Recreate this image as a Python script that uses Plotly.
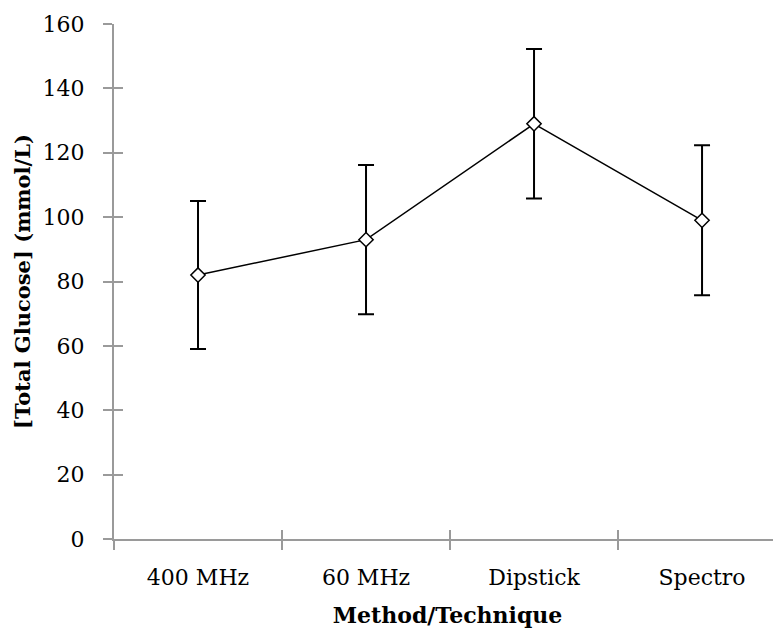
import plotly.graph_objects as go

categories = ["400 MHz", "60 MHz", "Dipstick", "Spectro"]
glucose = [82, 93, 129, 99]
error = [23, 23.2, 23.2, 23.3]
y_ticks = [0, 20, 40, 60, 80, 100, 120, 140, 160]

FONT = "DejaVu Serif"
AX = "#9a9a9a"

fig = go.Figure()
fig.add_trace(go.Scatter(
    x=categories, y=glucose,
    mode="lines+markers",
    line=dict(color="black", width=1.5),
    marker=dict(symbol="diamond", size=11, color="white",
                line=dict(color="black", width=1.5)),
    error_y=dict(type="data", array=error, visible=True,
                 color="black", thickness=2, width=8),
    showlegend=False,
))
# invisible trace on secondary axes for the inner half of the ticks
fig.add_trace(go.Scatter(x=categories, y=glucose, xaxis="x2", yaxis="y2",
                         mode="markers", marker=dict(opacity=0),
                         showlegend=False, hoverinfo="skip"))

xr = [-0.5, 3.47]
fig.update_layout(
    width=773, height=622,
    margin=dict(l=106, r=0, t=16, b=91, autoexpand=False),
    plot_bgcolor="white", paper_bgcolor="white",
    font=dict(family=FONT, size=22, color="black"),
    xaxis=dict(
        type="category", range=xr, tickson="boundaries",
        showline=True, linecolor=AX, linewidth=2,
        ticks="outside", ticklen=9, tickcolor=AX, tickwidth=2,
        ticklabelstandoff=18,
        showgrid=False, zeroline=False,
        tickfont=dict(family=FONT, size=22),
        title=dict(text="<b>Method/Technique</b>", font=dict(family=FONT, size=22), standoff=18),
    ),
    yaxis=dict(
        range=[0, 160], tickvals=y_ticks,
        showline=True, linecolor=AX, linewidth=2,
        ticks="outside", ticklen=9, tickcolor=AX, tickwidth=2,
        ticklabelstandoff=14,
        showgrid=False, zeroline=False,
        tickfont=dict(family=FONT, size=22),
        title=dict(text="<b>[Total Glucose] (mmol/L)</b>", font=dict(family=FONT, size=21), standoff=6),
    ),
    xaxis2=dict(
        type="category", range=xr, tickson="boundaries", overlaying="x",
        showline=False, ticks="inside", ticklen=9, tickcolor=AX, tickwidth=2,
        showticklabels=False, showgrid=False, zeroline=False,
    ),
    yaxis2=dict(
        range=[0, 160], tickvals=y_ticks, overlaying="y",
        showline=False, ticks="inside", ticklen=9, tickcolor=AX, tickwidth=2,
        showticklabels=False, showgrid=False, zeroline=False,
    ),
)

fig.write_html("out.html")
